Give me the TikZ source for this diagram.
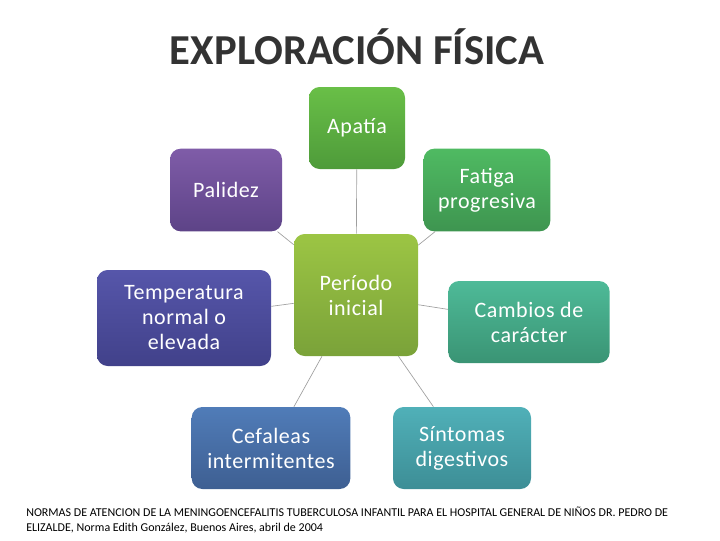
\documentclass[tikz,border=0pt]{standalone}
\usepackage{fontspec}
\setmainfont{Carlito}
\newfontfamily\boxfont[LetterSpace=2.5]{Carlito}
\usetikzlibrary{positioning}

\definecolor{apatop}{HTML}{69BF47}\definecolor{apabot}{HTML}{4E9B3A}
\definecolor{paltop}{HTML}{7F5CA8}\definecolor{palbot}{HTML}{5D4387}
\definecolor{fattop}{HTML}{4FBA62}\definecolor{fatbot}{HTML}{3E9550}
\definecolor{temtop}{HTML}{5656AA}\definecolor{tembot}{HTML}{41418A}
\definecolor{pertop}{HTML}{9CC544}\definecolor{perbot}{HTML}{7AA239}
\definecolor{camtop}{HTML}{4EBA98}\definecolor{cambot}{HTML}{3A9474}
\definecolor{ceftop}{HTML}{507CB8}\definecolor{cefbot}{HTML}{3E5F92}
\definecolor{sintop}{HTML}{50B0B8}\definecolor{sinbot}{HTML}{3D8E96}

\tikzset{
  box/.style={rounded corners=8pt, text=white, align=center, inner sep=0pt,
    font=\boxfont\fontsize{16.5}{18.75}\selectfont},
  shade/.style={top color=#1top, bottom color=#1bot},
  link/.style={draw=gray!75, line width=0.5pt}
}

\begin{document}
\begin{tikzpicture}[x=0.75pt,y=-0.75pt]
  \useasboundingbox (0,0) rectangle (720,540);

  \node (title) at (357,47) {\fontsize{32}{34}\selectfont\bfseries\color{black!80}EXPLORACIÓN FÍSICA};

  \node[box, shade=per, minimum width=93pt, minimum height=91.5pt] (per) at (356,295) {Período\\inicial};
  \node[box, shade=apa, minimum width=72pt, minimum height=61.5pt] (apa) at (357,128) {Apatía};
  \node[box, shade=pal, minimum width=84pt, minimum height=62pt] (pal) at (226,190) {Palidez};
  \node[box, shade=fat, minimum width=95pt, minimum height=62pt] (fat) at (487,190) {Fatiga\\progresiva};
  \node[box, shade=tem, minimum width=130.5pt, minimum height=72pt] (tem) at (184,318) {Temperatura\\normal o\\elevada};
  \node[box, shade=cam, minimum width=121pt, minimum height=61.5pt] (cam) at (529,322) {Cambios de\\carácter};
  \node[box, shade=cef, minimum width=119pt, minimum height=61.5pt] (cef) at (271,448) {Cefaleas\\intermitentes};
  \node[box, shade=sin, minimum width=103.5pt, minimum height=61.5pt] (sin) at (462,448) {Síntomas\\digestivos};

  \draw[link] (per) -- (apa);
  \draw[link] (per) -- (pal);
  \draw[link] (per) -- (fat);
  \draw[link] (per) -- (tem);
  \draw[link] (per) -- (cam);
  \draw[link] (per) -- (cef);
  \draw[link] (per) -- (sin);

  \node[anchor=north west, align=left, inner sep=0pt, font=\fontsize{9}{11.2}\selectfont] (ref) at (26,507)
    {NORMAS DE ATENCION DE LA MENINGOENCEFALITIS TUBERCULOSA INFANTIL PARA EL HOSPITAL GENERAL DE NIÑOS DR. PEDRO DE\\
     ELIZALDE, Norma Edith González, Buenos Aires, abril de 2004};
\end{tikzpicture}
\end{document}
